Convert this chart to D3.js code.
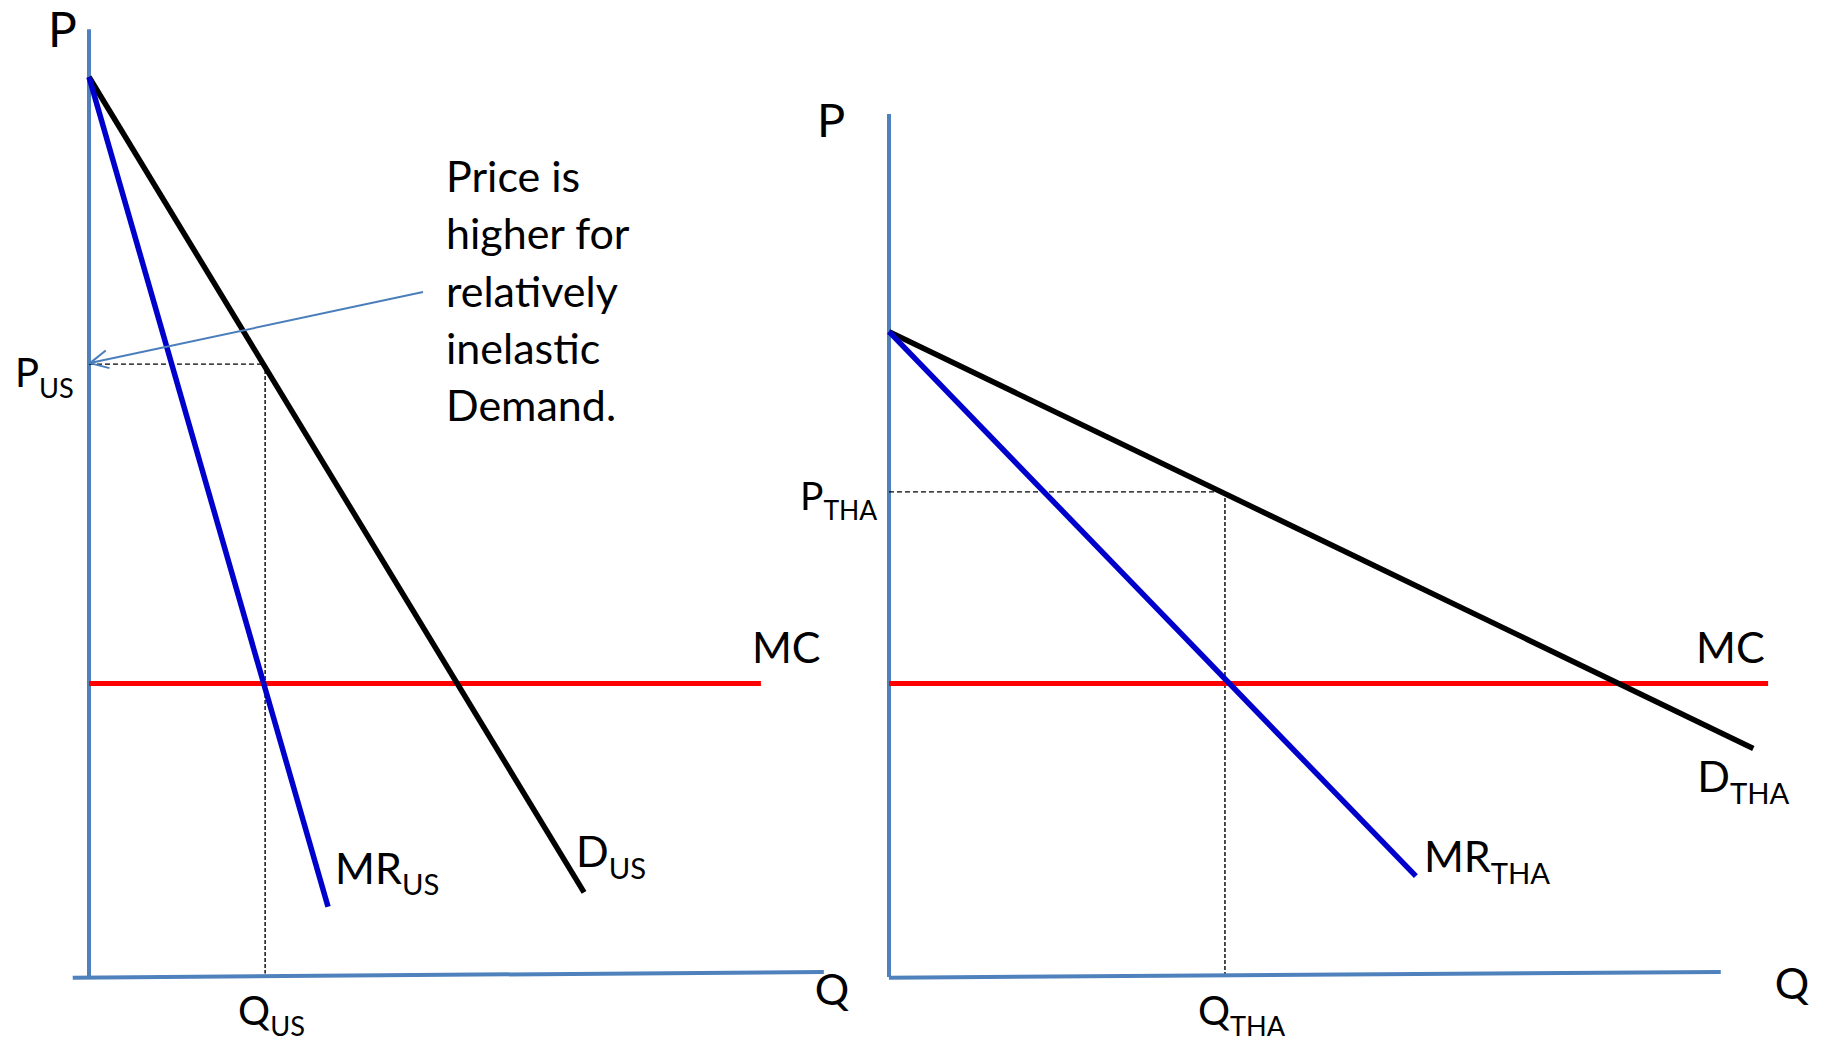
<!DOCTYPE html>
<html>
<head>
<meta charset="utf-8">
<script src="https://cdn.jsdelivr.net/npm/d3@7"></script>
<style>
body { margin: 0; background: #fff; }
text { font-family: Lato, "Open Sans", sans-serif; fill: #000; }
</style>
</head>
<body>
<div id="chart"></div>
<script>
// US market: steep (relatively inelastic) demand
const usDemand = [{q: 0, p: 100}, {q: 66.9, p: 9.4}];
const usMR = [{q: 0, p: 100}, {q: 32.3, p: 7.8}];
const usMC = [{q: 0, p: 32.6}, {q: 90.8, p: 32.6}];
const usEq = {q: 23.8, p: 68.1};
const usAxisQ = [{q: -2.2, p: -0.08}, {q: 99.3, p: 0.56}];
const usAxisP = [{q: 0, p: 0}, {q: 0, p: 105.3}];

// Thailand market: flatter (relatively elastic) demand
const thaDemand = [{q: 0, p: 71.7}, {q: 116.8, p: 25.4}];
const thaMR = [{q: 0, p: 71.7}, {q: 71.2, p: 11.2}];
const thaMC = [{q: 0, p: 32.6}, {q: 118.8, p: 32.6}];
const thaEq = {q: 45.4, p: 53.9};
const thaAxisQ = [{q: 0, p: -0.08}, {q: 112.4, p: 0.56}];
const thaAxisP = [{q: 0, p: 0}, {q: 0, p: 95.9}];

const noteLines = ["Price is", "higher for", "relatively", "inelastic", "Demand."];

const width = 1822, height = 1042;
const axisColor = "#4f81bd";

const svg = d3.select("#chart").append("svg")
    .attr("width", width)
    .attr("height", height);

svg.append("defs").append("marker")
    .attr("id", "openArrow")
    .attr("viewBox", "-20 -11 22 22")
    .attr("markerWidth", 22)
    .attr("markerHeight", 22)
    .attr("markerUnits", "userSpaceOnUse")
    .attr("refX", 0)
    .attr("refY", 0)
    .attr("orient", "auto")
    .append("path")
    .attr("d", "M-18,-9L0,0L-18,9")
    .attr("fill", "none")
    .attr("stroke", "#4a7ebb")
    .attr("stroke-width", 2);

class Panel {
    constructor(g, x0) {
        this.g = g;
        this.x = d3.scaleLinear().domain([0, 100]).range([x0, x0 + 740]);
        this.y = d3.scaleLinear().domain([0, 100]).range([977, 77]);
        this.line = d3.line().x(d => this.x(d.q)).y(d => this.y(d.p));
    }

    path(data, color, w, dash) {
        return this.g.append("path")
            .datum(data)
            .attr("d", this.line)
            .attr("fill", "none")
            .attr("stroke", color)
            .attr("stroke-width", w)
            .attr("stroke-dasharray", dash || null);
    }

    label(pt, dx, dy, main, sub, size) {
        const t = this.g.append("text")
            .attr("x", this.x(pt.q) + dx)
            .attr("y", this.y(pt.p) + dy)
            .style("font-size", size + "px")
            .text(main);
        if (sub) {
            t.append("tspan")
                .attr("dy", size * 0.27)
                .style("font-size", (size * 0.68) + "px")
                .text(sub);
        }
        return t;
    }

    draw(cfg) {
        // axes
        this.path(cfg.axisP, axisColor, 4);
        this.path(cfg.axisQ, axisColor, 4);
        // guide lines to the equilibrium
        const eq = cfg.eq;
        this.path([{q: 0, p: eq.p}, eq], "#000", 1.4, "5,3");
        this.path([eq, {q: eq.q, p: 0.4}], "#000", 1.4, "4,2");
        // curves
        this.path(cfg.mc, "#ff0000", 5);
        this.path(cfg.demand, "#000", 5.5);
        this.path(cfg.mr, "#0000cc", 5.5);
    }
}

// ---- left panel: US ----
const us = new Panel(svg.append("g"), 89);
us.draw({axisP: usAxisP, axisQ: usAxisQ, eq: usEq, mc: usMC, demand: usDemand, mr: usMR});
us.label(usAxisP[1], -41, 18, "P", null, 48);
us.label(usAxisQ[1], -9, 33, "Q", null, 43);
us.label({q: 0, p: usEq.p}, -74, 23, "P", "US", 40);
us.label({q: usEq.q, p: 0}, -27, 48, "Q", "US", 40);
us.label(usMC[1], -9, -21, "MC", null, 43);
us.label(usMR[1], 7, -23, "MR", "US", 43);
us.label(usDemand[1], -8, -25, "D", "US", 43);

// annotation with arrow pointing at P_US
const noteX = 446, noteY = 192, noteStep = 57.3;
svg.append("text")
    .style("font-size", "43px")
    .selectAll("tspan")
    .data(noteLines)
    .join("tspan")
    .attr("x", noteX)
    .attr("y", (d, i) => noteY + i * noteStep)
    .text(d => d);

svg.append("line")
    .attr("x1", noteX - 23)
    .attr("y1", noteY + 100)
    .attr("x2", us.x(0) + 1)
    .attr("y2", us.y(usEq.p) - 1)
    .attr("stroke", "#4a7ebb")
    .attr("stroke-width", 2)
    .attr("marker-end", "url(#openArrow)");

// ---- right panel: Thailand ----
const tha = new Panel(svg.append("g"), 889);
tha.draw({axisP: thaAxisP, axisQ: thaAxisQ, eq: thaEq, mc: thaMC, demand: thaDemand, mr: thaMR});
tha.label(thaAxisP[1], -72, 23, "P", null, 47);
tha.label(thaAxisQ[1], 54, 27, "Q", null, 43);
tha.label({q: 0, p: thaEq.p}, -89, 18, "P", "THA", 39);
tha.label({q: thaEq.q, p: 0}, -27, 48, "Q", "THA", 40);
tha.label(thaMC[1], -72, -21, "MC", null, 43);
tha.label(thaMR[1], 8, -4, "MR", "THA", 43);
tha.label(thaDemand[1], -56, 44, "D", "THA", 43);
</script>
</body>
</html>
